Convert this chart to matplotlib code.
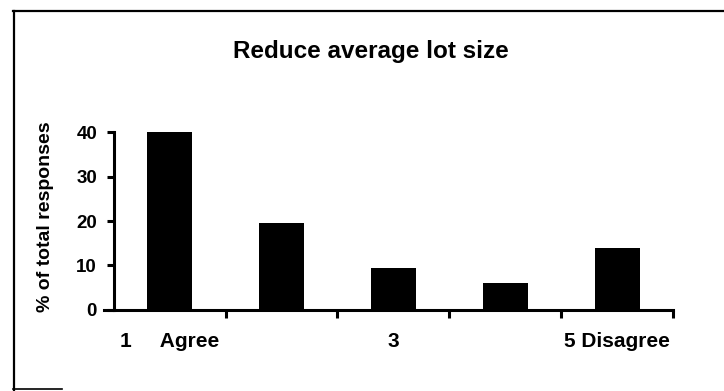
import matplotlib.pyplot as plt
from matplotlib.lines import Line2D

plt.rcParams['font.family'] = ['Liberation Sans', 'DejaVu Sans']
plt.rcParams['font.weight'] = 'bold'

# survey responses, 1 = agree ... 5 = disagree
scale = [1, 2, 3, 4, 5]
pct = [40, 19.5, 9.5, 6, 14]
tick_pos = [1, 3, 5]
tick_text = ['1     Agree', '3', '5 Disagree']

fig = plt.figure(figsize=(7.24, 3.91), dpi=100)
ax = fig.add_axes([0.157, 0.208, 0.7727, 0.4535])

ax.bar(scale, pct, width=0.40, color='black')

ax.set_xlim(0.5, 5.5)
ax.set_ylim(0, 40)
ax.set_yticks([0, 10, 20, 30, 40])
ax.set_xticks(tick_pos)
ax.set_xticklabels(tick_text)
ax.set_xticks([1.5, 2.5, 3.5, 4.5, 5.5], minor=True)

ax.tick_params(axis='y', length=5, width=2.2, labelsize=13.5, pad=7)
ax.tick_params(axis='x', which='major', length=0, labelsize=15, pad=16)
ax.tick_params(axis='x', which='minor', length=6, width=2.2)
for lbl in ax.get_xticklabels() + ax.get_yticklabels():
    lbl.set_fontweight('bold')

for s in ['top', 'right']:
    ax.spines[s].set_visible(False)
for s in ['left', 'bottom']:
    ax.spines[s].set_linewidth(2.2)
ax.spines['bottom'].set_bounds(0.41, 5.5)

ax.set_ylabel('% of total responses', fontsize=14, fontweight='bold', va='center')
ax.yaxis.set_label_coords(-0.121, 0.527)
fig.text(0.5124, 0.851, 'Reduce average lot size', ha='center', va='baseline',
         fontsize=17.5, fontweight='bold')

# outer frame (left and top edges, short piece along the bottom)
fig.add_artist(Line2D([0.019, 0.019], [0.002, 0.972], color='black', lw=1.6))
fig.add_artist(Line2D([0.018, 1.0], [0.972, 0.972], color='black', lw=1.6))
fig.add_artist(Line2D([0.018, 0.085], [0.004, 0.004], color='black', lw=1.2))

fig.savefig('out.png', dpi=100)
